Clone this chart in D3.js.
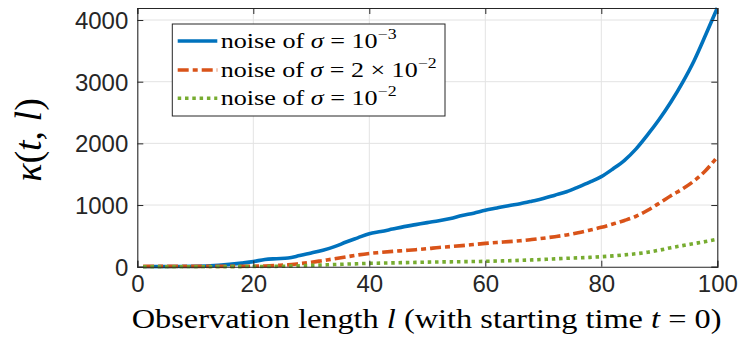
<!DOCTYPE html>
<html><head><meta charset="utf-8">
<script src="https://cdn.jsdelivr.net/npm/d3@7"></script>
<style>body{margin:0;background:#fff}svg{display:block}</style>
</head><body>
<svg id="c" width="747" height="344"></svg>
<script>
const lengths = [1,5,10,14,18,20,22,24,26,28,30,32,34,36,38,40,42,44,46,48,50,52,54,56,58,60,62,64,66,68,70,72,74,76,78,80,82,84,86,88,90,92,94,96,98,100];
const sigma1e3 = [0,2,5,22,58,82,118,130,140,180,222,268,325,400,468,535,570,610,650,682,715,745,782,830,868,915,952,990,1022,1062,1105,1160,1215,1290,1370,1460,1585,1725,1910,2140,2390,2670,2985,3340,3760,4195];
const sigma2e2 = [5,5,5,5,6,8,12,20,30,50,72,100,128,158,190,215,232,248,262,276,292,312,326,342,360,378,393,406,420,440,462,487,515,550,592,638,692,750,818,915,1030,1150,1262,1392,1560,1780];
const sigma1e2 = [0,0,0,0,2,3,4,6,9,14,22,28,35,42,48,55,58,62,66,70,74,77,79,81,84,87,92,97,103,110,118,127,136,143,151,162,175,192,210,235,268,308,342,375,408,445];
const xTicks = [0,20,40,60,80,100];
const yTicks = [0,1000,2000,3000,4000];
const seriesNames = ["sigma1e3","sigma2e2","sigma1e2"];
const seriesValues = [sigma1e3, sigma2e2, sigma1e2];
const legendLabels = [
  [["noise of ",""],["σ","i"],[" = 10",""],["−3","s"]],
  [["noise of ",""],["σ","i"],[" = 2 × 10",""],["−2","s"]],
  [["noise of ",""],["σ","i"],[" = 10",""],["−2","s"]]
];
const colors = ["#0072BD","#D95319","#77AC30"];
const dashes = [null,"11,4,5,4","3.5,3.8"];

const svg = d3.select("#c");
const L=137.3, R=717.3, T=8, B=266.7;
const x = d3.scaleLinear().domain([0,100]).range([L,R]);
const y = d3.scaleLinear().domain([0,4195]).range([B,T]);
const axisCol = "#262626";

// grid
const g = svg.append("g");
g.selectAll(".gx").data(xTicks.filter(d=>d>0&&d<100)).enter().append("line")
  .attr("x1",d=>x(d)).attr("x2",d=>x(d)).attr("y1",T).attr("y2",B)
  .attr("stroke","#e3e3e3").attr("stroke-width",1);
g.selectAll(".gy").data(yTicks.filter(d=>d>0)).enter().append("line")
  .attr("x1",L).attr("x2",R).attr("y1",d=>y(d)).attr("y2",d=>y(d))
  .attr("stroke","#e3e3e3").attr("stroke-width",1);

// clip
svg.append("clipPath").attr("id","clip").append("rect")
  .attr("x",L).attr("y",T-2).attr("width",R-L).attr("height",B-T+4);

const line = d3.line().x((d,i)=>x(lengths[i])).y(d=>y(d)).curve(d3.curveMonotoneX);
const lg = svg.append("g").attr("clip-path","url(#clip)");
seriesValues.forEach((vals,k)=>{
  lg.append("path").datum(vals).attr("d",line)
    .attr("fill","none").attr("stroke",colors[k]).attr("stroke-width",3.6)
    .attr("stroke-dasharray",dashes[k]).attr("stroke-linejoin","round")
    .attr("class",seriesNames[k]);
});

// axes with inward ticks
const tickSize = -6;
const ax = svg.append("g").attr("transform",`translate(0,${B})`)
  .call(d3.axisBottom(x).tickValues(xTicks).tickSize(tickSize).tickPadding(9).tickFormat(d3.format("d")));
const axTop = svg.append("g").attr("transform",`translate(0,${T})`)
  .call(d3.axisTop(x).tickValues(xTicks).tickSize(tickSize).tickFormat(""));
const ay = svg.append("g").attr("transform",`translate(${L},0)`)
  .call(d3.axisLeft(y).tickValues(yTicks).tickSize(tickSize).tickPadding(9).tickFormat(d3.format("d")));
const ayR = svg.append("g").attr("transform",`translate(${R},0)`)
  .call(d3.axisRight(y).tickValues(yTicks).tickSize(tickSize).tickFormat(""));
[ax,axTop,ay,ayR].forEach(a=>{
  a.select(".domain").attr("stroke",axisCol).attr("stroke-width",1.1);
  a.selectAll(".tick line").attr("stroke",axisCol).attr("stroke-width",1);
  a.selectAll("text").attr("fill",axisCol).attr("font-family","Liberation Sans, Arial, sans-serif").attr("font-size",24);
});
ax.selectAll("text").attr("dy","0.68em");
ay.selectAll("text").attr("x",-9).attr("dy","0.35em");

// helper: fit text width
function fitWidth(sel, target, ax0){
  const w = sel.node().getBBox().width;
  const s = target/w;
  sel.attr("transform",`translate(${ax0},0) scale(${s},1) translate(${-ax0},0)`);
}

// x label
const serif = "Liberation Serif, Times New Roman, serif";
const xl = svg.append("text").attr("x",131.7).attr("y",328.3)
  .attr("font-family",serif).attr("font-size",28).attr("fill","#000");
xl.append("tspan").text("Observation length ");
xl.append("tspan").attr("font-style","italic").text("l");
xl.append("tspan").text(" (with starting time ");
xl.append("tspan").attr("font-style","italic").text("t");
xl.append("tspan").text(" = 0)");
fitWidth(xl, 590, 131.7);

// y label
const yl = svg.append("text").attr("font-family",serif).attr("font-size",38).attr("fill","#000")
  .attr("text-anchor","middle").attr("transform","translate(41,140) rotate(-90)");
yl.append("tspan").attr("font-style","italic").text("κ");
yl.append("tspan").text("(");
yl.append("tspan").attr("font-style","italic").text("t");
yl.append("tspan").text(", ");
yl.append("tspan").attr("font-style","italic").text("l");
yl.append("tspan").text(")");

// legend
const legX=172.3, legY=24, legW=272.7, legH=92;
svg.append("rect").attr("x",legX).attr("y",legY).attr("width",legW).attr("height",legH)
  .attr("fill","#fff").attr("stroke",axisCol).attr("stroke-width",1);
const rowY=[41,70,98.3];
const targetW=[176,216,176];
legendLabels.forEach((parts,k)=>{
  svg.append("line").attr("x1",177.7).attr("x2",217.3).attr("y1",rowY[k]).attr("y2",rowY[k])
    .attr("stroke",colors[k]).attr("stroke-width",3.6).attr("stroke-dasharray",dashes[k]);
  const t = svg.append("text").attr("x",220.7).attr("y",rowY[k]+7)
    .attr("font-family",serif).attr("font-size",22).attr("fill","#000");
  parts.forEach(([s,f])=>{
    const ts = t.append("tspan").text(s);
    if(f==="i") ts.attr("font-style","italic");
    if(f==="s") ts.attr("font-size",15).attr("dy",-9);
  });
  fitWidth(t, targetW[k], 220.7);
});
</script>
</body></html>
